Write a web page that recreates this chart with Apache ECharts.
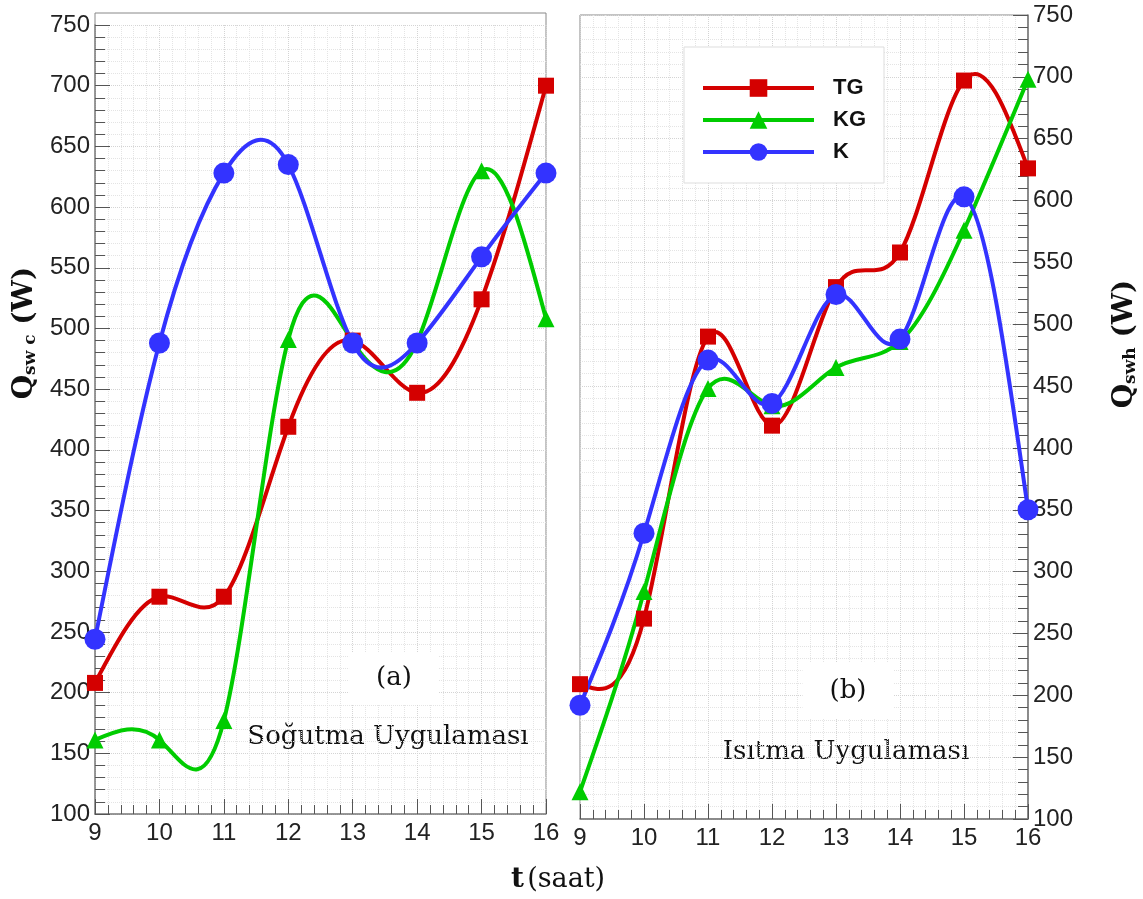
<!DOCTYPE html>
<html>
<head>
<meta charset="utf-8">
<script src="https://cdn.jsdelivr.net/npm/echarts@6/dist/echarts.min.js"></script>
<style>
  html, body { margin: 0; padding: 0; background: #fff; }
  #chart { width: 1143px; height: 899px; }
</style>
</head>
<body>
<div id="chart"></div>
<script>
// saat (x ekseni)
var hours = [9, 10, 11, 12, 13, 14, 15, 16];
var seriesNames = ['TG', 'KG', 'K'];

// (a) Soğutma uygulaması
var coolTG = [208, 279, 279, 419, 490, 447, 524, 700];
var coolKG = [161, 161, 177, 491, 489, 489, 630, 508];
var coolK = [244, 488, 628, 635, 488, 488, 559, 628];

// (b) Isıtma uygulaması
var heatTG = [209, 262, 490, 418, 530, 558, 697, 626];
var heatKG = [122, 284, 448, 434, 465, 486, 576, 698];
var heatK = [192, 331, 471, 436, 524, 488, 603, 350];

var colors = ['#d40000', '#00cc00', '#3333ff'];
var symbols = ['rect', 'triangle', 'circle'];
var symbolSizes = [16, 17, 21];

var chart = echarts.init(document.getElementById('chart'));

function pairs(ys) {
  return hours.map(function (h, i) { return [h, ys[i]]; });
}

// doğal kübik spline: ikinci türevler (saatler 1 aralıklı)
function splineM(ys) {
  var n = ys.length, m = n - 2;
  var cp = [], dp = [], M = new Array(n).fill(0);
  for (var k = 0; k < m; k++) {
    var d = 6 * (ys[k + 2] - 2 * ys[k + 1] + ys[k]);
    if (k === 0) {
      cp[k] = 1 / 4; dp[k] = d / 4;
    } else {
      var den = 4 - cp[k - 1];
      cp[k] = 1 / den; dp[k] = (d - dp[k - 1]) / den;
    }
  }
  for (k = m - 1; k >= 0; k--) {
    M[k + 1] = dp[k] - (k < m - 1 ? cp[k] * M[k + 2] : 0);
  }
  return M;
}

// eğri: her parça bir bezier, koordinatlar eksenden
function curveSeries(idx, gridIdx, ys) {
  var M = splineM(ys);
  return {
    name: seriesNames[idx] + '-egri',
    type: 'custom',
    xAxisIndex: gridIdx,
    yAxisIndex: gridIdx,
    data: pairs(ys),
    silent: true,
    renderItem: function (params, api) {
      var i = params.dataIndex;
      if (i >= hours.length - 1) return null;
      var x0 = hours[i], x1 = hours[i + 1], h = x1 - x0;
      var y0 = ys[i], y1 = ys[i + 1];
      var s0 = (y1 - y0) / h - h * (2 * M[i] + M[i + 1]) / 6;
      var s1 = (y1 - y0) / h + h * (M[i] + 2 * M[i + 1]) / 6;
      var p0 = api.coord([x0, y0]);
      var p1 = api.coord([x1, y1]);
      var c0 = api.coord([x0 + h / 3, y0 + s0 * h / 3]);
      var c1 = api.coord([x1 - h / 3, y1 - s1 * h / 3]);
      return {
        type: 'bezierCurve',
        shape: { x1: p0[0], y1: p0[1], x2: p1[0], y2: p1[1],
                 cpx1: c0[0], cpy1: c0[1], cpx2: c1[0], cpy2: c1[1] },
        style: { stroke: colors[idx], lineWidth: 4, fill: null }
      };
    }
  };
}

function markSeries(idx, gridIdx, ys) {
  return {
    name: seriesNames[idx],
    type: 'line',
    xAxisIndex: gridIdx,
    yAxisIndex: gridIdx,
    data: pairs(ys),
    symbol: symbols[idx],
    symbolSize: symbolSizes[idx],
    lineStyle: { color: colors[idx], width: 4, opacity: 0 },
    itemStyle: { color: colors[idx] },
    emphasis: { disabled: true }
  };
}

var labelFont = { fontFamily: 'Liberation Sans', fontSize: 24, color: '#222' };

function xAxisOpt(gridIdx) {
  return {
    type: 'value', gridIndex: gridIdx, min: 9, max: 16, interval: 1,
    axisLine: { show: true, lineStyle: { color: '#777', width: 1.5 } },
    axisTick: { inside: true, length: 15, lineStyle: { color: '#555' } },
    minorTick: { show: true, splitNumber: 5, length: 9, lineStyle: { color: '#555' } },
    axisLabel: Object.assign({ margin: 7 }, labelFont),
    splitLine: { show: true, lineStyle: { color: '#d4d4d4', type: 'dotted' } },
    minorSplitLine: { show: true, lineStyle: { color: '#e4e4e4', type: 'dotted' } }
  };
}

function yAxisOpt(gridIdx, pos) {
  return {
    type: 'value', gridIndex: gridIdx, min: 100, max: 750, interval: 50,
    position: pos,
    axisLine: { show: true, lineStyle: { color: '#777', width: 1.5 } },
    axisTick: { inside: true, length: 15, lineStyle: { color: '#555' } },
    minorTick: { show: true, splitNumber: 5, length: 10, lineStyle: { color: '#555' } },
    axisLabel: Object.assign({ margin: 5 }, labelFont),
    splitLine: { show: true, lineStyle: { color: '#d4d4d4', type: 'dotted' } },
    minorSplitLine: { show: true, lineStyle: { color: '#e4e4e4', type: 'dotted' } }
  };
}

var series = [];
[[coolTG, coolKG, coolK], [heatTG, heatKG, heatK]].forEach(function (set, g) {
  set.forEach(function (ys, idx) {
    series.push(curveSeries(idx, g, ys));
    series.push(markSeries(idx, g, ys));
  });
});

var option = {
  backgroundColor: '#fff',
  animation: false,
  grid: [
    { left: 95, right: 597, top: 25, bottom: 85 },
    { left: 580, right: 115, top: 15, bottom: 80, show: true, borderColor: '#888', borderWidth: 1 }
  ],
  xAxis: [xAxisOpt(0), xAxisOpt(1)],
  yAxis: [yAxisOpt(0, 'left'), yAxisOpt(1, 'right')],
  legend: {
    data: seriesNames,
    orient: 'vertical',
    left: 684,
    top: 47,
    backgroundColor: '#fff',
    borderColor: '#ddd',
    borderWidth: 1,
    padding: [30, 18, 20, 17],
    itemWidth: 111,
    itemHeight: 22,
    itemGap: 10,
    lineStyle: { width: 4, opacity: 1 },
    textStyle: {
      fontFamily: 'Liberation Sans', fontSize: 22, fontWeight: 'bold', color: '#111',
      padding: [0, 0, 0, 14]
    }
  },
  graphic: [
    // sol panelin üst ve sağ çerçevesi
    {
      type: 'polyline', silent: true,
      shape: { points: [[95, 25], [95, 13], [546, 13], [546, 814]] },
      style: { stroke: '#888', lineWidth: 1, fill: null }
    },
    {
      type: 'text', x: 22, y: 333, rotation: Math.PI / 2,
      style: {
        text: '{q|Q}{s|sw c}{q| (W)}',
        align: 'center', verticalAlign: 'middle',
        rich: {
          q: { fontFamily: 'DejaVu Serif', fontWeight: 'bold', fontSize: 28, fill: '#111', lineHeight: 34, verticalAlign: 'bottom' },
          s: { fontFamily: 'DejaVu Serif', fontWeight: 'bold', fontSize: 17, fill: '#111', lineHeight: 30, verticalAlign: 'bottom' }
        }
      }
    },
    {
      type: 'text', x: 1122, y: 344, rotation: Math.PI / 2,
      style: {
        text: '{q|Q}{s|swh}{q| (W)}',
        align: 'center', verticalAlign: 'middle',
        rich: {
          q: { fontFamily: 'DejaVu Serif', fontWeight: 'bold', fontSize: 28, fill: '#111', lineHeight: 34, verticalAlign: 'bottom' },
          s: { fontFamily: 'DejaVu Serif', fontWeight: 'bold', fontSize: 17, fill: '#111', lineHeight: 30, verticalAlign: 'bottom' }
        }
      }
    },
    {
      type: 'text', x: 558, y: 880,
      style: {
        text: '{b|t} {r|(saat)}',
        align: 'center', verticalAlign: 'middle',
        rich: {
          b: { fontFamily: 'DejaVu Serif', fontWeight: 'bold', fontSize: 28, fill: '#111' },
          r: { fontFamily: 'DejaVu Serif', fontSize: 27, fill: '#111' }
        }
      }
    },
    {
      type: 'text', x: 394, y: 678, z: 10,
      style: {
        text: '(a)', align: 'center', verticalAlign: 'middle',
        fontFamily: 'DejaVu Serif', fontSize: 26, fill: '#111',
        backgroundColor: '#fff', padding: [13, 27, 13, 27]
      }
    },
    {
      type: 'text', x: 388, y: 737,
      style: {
        text: 'Soğutma Uygulaması', align: 'center', verticalAlign: 'middle',
        fontFamily: 'DejaVu Serif', fontSize: 26, fill: '#111'
      }
    },
    {
      type: 'text', x: 848, y: 691, z: 10,
      style: {
        text: '(b)', align: 'center', verticalAlign: 'middle',
        fontFamily: 'DejaVu Serif', fontSize: 26, fill: '#111',
        backgroundColor: '#fff', padding: [15, 27, 15, 27]
      }
    },
    {
      type: 'text', x: 846, y: 752,
      style: {
        text: 'Isıtma Uygulaması', align: 'center', verticalAlign: 'middle',
        fontFamily: 'DejaVu Serif', fontSize: 26, fill: '#111'
      }
    }
  ],
  series: series
};

chart.setOption(option);
</script>
</body>
</html>
